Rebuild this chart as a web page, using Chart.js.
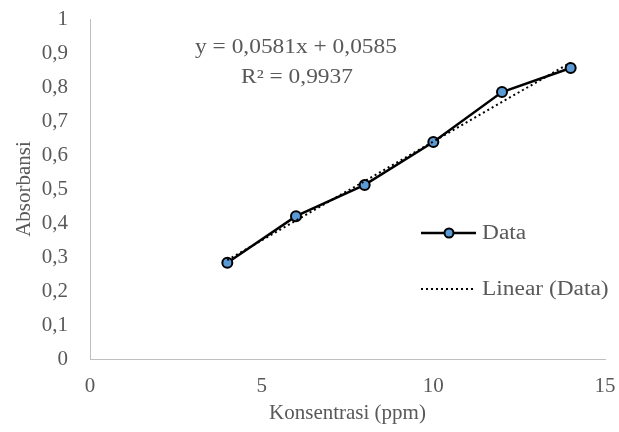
<!DOCTYPE html>
<html>
<head>
<meta charset="utf-8">
<script src="https://cdn.jsdelivr.net/npm/chart.js@4/dist/chart.umd.min.js"></script>
<style>
  html, body { margin: 0; padding: 0; background: #fff; }
  #wrap { width: 619px; height: 432px; }
</style>
</head>
<body>
<div id="wrap"><canvas id="chart"></canvas></div>
<script>
// data
const konsentrasi = [4, 6, 8, 10, 12, 14];
const absorbansi = [0.283, 0.42, 0.512, 0.638, 0.785, 0.856];
const trendX = [4, 14];
const trendY = [0.291, 0.872];
const equation = "y = 0,0581x + 0,0585";
const rSquared = "R² = 0,9937";

const grey = "#595959";
const serif = "'Liberation Serif', 'Times New Roman', serif";

function pts(xs, ys) {
  return xs.map((x, i) => ({ x: x, y: ys[i] }));
}

// text in the reference is a bit wider than plain Times, so stretch it
function wideText(ctx, txt, x, y, align) {
  const sx = 1.17;
  ctx.save();
  ctx.translate(x, y);
  ctx.scale(sx, 1);
  ctx.textAlign = align;
  ctx.fillText(txt, 0, 0);
  ctx.restore();
}

// equation and legend sit inside the plot, like Excel does
const extras = {
  id: "extras",
  afterDatasetsDraw(chart) {
    const ctx = chart.ctx;
    ctx.save();
    ctx.fillStyle = grey;
    ctx.font = "20px " + serif;
    ctx.textBaseline = "middle";
    wideText(ctx, equation, 296, 48, "center");
    wideText(ctx, rSquared, 297, 78, "center");

    // legend
    ctx.strokeStyle = "#000";
    ctx.lineWidth = 2.5;
    ctx.beginPath();
    ctx.moveTo(421, 233);
    ctx.lineTo(476, 233);
    ctx.stroke();
    ctx.beginPath();
    ctx.arc(449, 233, 4.5, 0, Math.PI * 2);
    ctx.fillStyle = "#5b9bd5";
    ctx.fill();
    ctx.lineWidth = 2;
    ctx.stroke();
    ctx.fillStyle = grey;
    wideText(ctx, "Data", 482, 234, "left");

    ctx.setLineDash([2, 3]);
    ctx.lineWidth = 2;
    ctx.beginPath();
    ctx.moveTo(421, 289);
    ctx.lineTo(473, 289);
    ctx.stroke();
    wideText(ctx, "Linear (Data)", 482, 290, "left");
    ctx.restore();
  }
};

new Chart(document.getElementById("chart"), {
  type: "scatter",
  data: {
    datasets: [
      {
        label: "Linear (Data)",
        data: pts(trendX, trendY),
        showLine: true,
        borderColor: "#000",
        borderWidth: 2,
        borderDash: [2, 3],
        pointRadius: 0
      },
      {
        label: "Data",
        data: pts(konsentrasi, absorbansi),
        showLine: true,
        borderColor: "#000",
        borderWidth: 2.5,
        pointRadius: 5,
        pointBorderWidth: 2,
        pointBackgroundColor: "#5b9bd5",
        pointBorderColor: "#000"
      }
    ]
  },
  options: {
    responsive: true,
    maintainAspectRatio: false,
    animation: false,
    layout: { padding: { left: 0, right: 14, top: 19, bottom: 0 } },
    plugins: {
      legend: { display: false },
      tooltip: { enabled: false }
    },
    scales: {
      x: {
        type: "linear",
        min: 0,
        max: 15,
        ticks: { stepSize: 5, color: grey, font: { family: serif, size: 21 }, padding: 7 },
        grid: { display: false },
        border: { display: true, color: "#bfbfbf", width: 1 },
        title: {
          display: true,
          text: "Konsentrasi (ppm)",
          color: grey,
          font: { family: serif, size: 21 },
          padding: { top: 2, bottom: 6 }
        },
        afterFit(scale) {
          scale.height = 73;
          scale.paddingLeft = 0;
          scale.paddingRight = 0;
        }
      },
      y: {
        min: 0,
        max: 1,
        ticks: {
          stepSize: 0.1,
          color: grey,
          font: { family: serif, size: 21 },
          padding: 14,
          callback: v => (Math.round(v * 10) / 10).toString().replace(".", ",")
        },
        grid: { display: false },
        border: { display: true, color: "#bfbfbf", width: 1 },
        title: {
          display: true,
          text: "Absorbansi",
          color: grey,
          font: { family: serif, size: 21 },
          padding: { top: 12, bottom: 4 }
        },
        afterFit(scale) {
          scale.width = 90;
          scale.paddingTop = 0;
          scale.paddingBottom = 0;
        }
      }
    }
  },
  plugins: [extras]
});
</script>
</body>
</html>
